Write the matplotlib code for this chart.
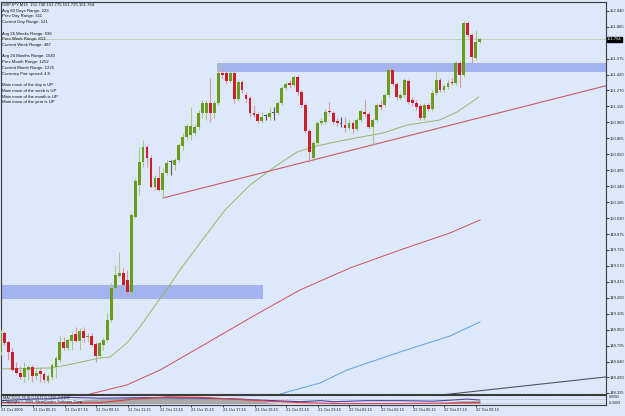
import numpy as np
import matplotlib.pyplot as plt

# GBPJPY M15 candles, 21 Oct 2009 03:15 -> 22 Oct 2009 09:30
opens = [148.733, 148.917, 148.830, 148.733, 148.577, 148.529, 148.490, 148.558, 148.587, 148.500,
         148.548, 148.519, 148.451, 148.490, 148.587, 148.655, 148.830, 148.771, 148.839, 148.907,
         148.839, 148.936, 148.878, 148.888, 148.810, 148.694, 148.801, 148.849, 149.043, 149.353,
         149.470, 149.499, 149.431, 149.315, 150.042, 150.353, 150.576, 150.721, 150.614, 150.333,
         150.420, 150.304, 150.469, 150.576, 150.547, 150.595, 150.731, 150.818, 150.838, 150.857,
         150.915, 151.051, 151.051, 151.148, 151.051, 151.148, 151.439, 151.439, 151.361, 151.439,
         151.187, 151.352, 151.226, 151.196, 151.051, 151.041, 150.973, 151.022, 151.012, 151.051,
         151.051, 151.148, 151.293, 151.342, 151.323, 151.400, 151.255, 151.129, 150.876, 150.614,
         150.760, 150.954, 150.964, 151.070, 151.051, 150.973, 150.944, 150.935, 150.905, 150.954,
         150.896, 150.983, 151.061, 151.041, 150.915, 150.983, 151.129, 151.129, 151.226, 151.468,
         151.332, 151.196, 151.226, 151.361, 151.177, 151.148, 151.119, 151.002, 151.129, 151.090,
         151.245, 151.371, 151.274, 151.303, 151.352, 151.342, 151.536, 151.420, 151.924, 151.808,
         151.584, 151.740]
highs = [148.946, 148.936, 148.849, 148.771, 148.636, 148.597, 148.636, 148.607, 148.607, 148.568,
         148.587, 148.539, 148.519, 148.626, 148.694, 148.888, 148.878, 148.868, 148.927, 148.975,
         148.965, 148.975, 148.917, 148.917, 148.830, 148.839, 148.878, 149.111, 149.402, 149.577,
         149.703, 149.547, 149.528, 150.081, 150.420, 150.721, 150.789, 150.741, 150.644, 150.450,
         150.537, 150.517, 150.595, 150.595, 150.614, 150.760, 150.857, 150.944, 151.109, 150.944,
         151.080, 151.177, 151.177, 151.390, 151.177, 151.536, 151.487, 151.458, 151.468, 151.458,
         151.371, 151.371, 151.255, 151.216, 151.129, 151.061, 151.061, 151.041, 151.109, 151.109,
         151.167, 151.313, 151.352, 151.371, 151.420, 151.420, 151.274, 151.148, 150.896, 150.779,
         150.973, 151.002, 151.090, 151.158, 151.070, 151.002, 151.012, 151.012, 150.983, 150.973,
         151.002, 151.090, 151.177, 151.061, 151.002, 151.148, 151.177, 151.245, 151.497, 151.487,
         151.352, 151.245, 151.390, 151.381, 151.206, 151.177, 151.138, 151.148, 151.148, 151.274,
         151.468, 151.390, 151.332, 151.371, 151.390, 151.555, 151.555, 151.943, 151.943, 151.827,
         151.856, 151.775]
lows = [148.704, 148.801, 148.655, 148.548, 148.519, 148.471, 148.442, 148.461, 148.442, 148.461,
        148.442, 148.442, 148.432, 148.471, 148.480, 148.636, 148.752, 148.752, 148.752, 148.830,
        148.752, 148.830, 148.830, 148.791, 148.636, 148.674, 148.752, 148.830, 149.024, 149.334,
        149.460, 149.363, 149.286, 149.295, 150.032, 150.256, 150.527, 150.527, 150.323, 150.304,
        150.294, 150.226, 150.450, 150.450, 150.498, 150.576, 150.692, 150.789, 150.789, 150.828,
        150.886, 151.002, 150.983, 150.964, 151.002, 151.129, 151.390, 151.332, 151.342, 151.148,
        151.167, 151.245, 151.158, 151.012, 151.012, 150.954, 150.954, 150.983, 150.983, 150.983,
        151.032, 151.129, 151.274, 151.293, 151.303, 151.226, 151.109, 150.857, 150.576, 150.585,
        150.741, 150.935, 150.944, 151.041, 150.944, 150.925, 150.915, 150.867, 150.886, 150.857,
        150.876, 150.964, 151.022, 150.896, 150.741, 150.964, 151.080, 151.109, 151.206, 151.313,
        151.177, 151.177, 151.206, 151.138, 151.119, 151.080, 150.983, 150.983, 151.070, 151.070,
        151.226, 151.255, 151.255, 151.284, 151.323, 151.323, 151.303, 151.400, 151.788, 151.536,
        151.565, 151.725]
closes = [148.917, 148.820, 148.733, 148.558, 148.529, 148.490, 148.577, 148.587, 148.500, 148.529,
          148.519, 148.461, 148.500, 148.607, 148.674, 148.830, 148.771, 148.849, 148.898, 148.839,
          148.936, 148.868, 148.888, 148.801, 148.694, 148.820, 148.849, 149.043, 149.353, 149.480,
          149.499, 149.383, 149.315, 150.062, 150.391, 150.576, 150.721, 150.614, 150.333, 150.420,
          150.304, 150.469, 150.566, 150.576, 150.595, 150.741, 150.818, 150.925, 150.925, 150.915,
          151.051, 151.148, 151.148, 151.051, 151.148, 151.439, 151.420, 151.361, 151.439, 151.187,
          151.352, 151.274, 151.187, 151.051, 151.032, 150.973, 151.012, 151.022, 151.051, 151.051,
          151.148, 151.293, 151.332, 151.323, 151.400, 151.255, 151.129, 150.876, 150.673, 150.760,
          150.954, 150.973, 151.061, 151.061, 150.964, 150.954, 150.944, 150.905, 150.954, 150.896,
          150.983, 151.070, 151.041, 150.915, 150.983, 151.129, 151.109, 151.226, 151.468, 151.332,
          151.206, 151.226, 151.371, 151.158, 151.148, 151.109, 151.002, 151.129, 151.090, 151.245,
          151.371, 151.274, 151.313, 151.342, 151.342, 151.536, 151.420, 151.924, 151.808, 151.594,
          151.740, 151.764]

# moving averages, read at a few bars
ma_green_x = [0, 12.5, 16.8, 25.1, 27.7, 31.9, 35.2, 39.5, 42.8, 45.3, 50.4, 56.7, 63.0, 68.8,
              74.9, 79.9, 85.7, 96.6, 102.7, 111.0, 115.3, 120.8]
ma_green_y = [148.568, 148.577, 148.606, 148.674, 148.684, 148.820, 148.975, 149.208, 149.383,
              149.528, 149.790, 150.110, 150.352, 150.517, 150.673, 150.731, 150.779, 150.857,
              150.934, 150.983, 151.061, 151.205]
ma_red_x = [22.6, 31.9, 40.3, 50.4, 63.0, 75.6, 88.3, 100.9, 113.5, 121.1]
ma_red_y = [148.325, 148.413, 148.558, 148.781, 149.062, 149.334, 149.548, 149.722, 149.887, 150.013]
ma_blue_x = [70.6, 80.7, 87.5, 100.9, 113.5, 121.1]
ma_blue_y = [148.325, 148.432, 148.558, 148.733, 148.888, 149.024]

# trend lines
trend_red_x = [41, 153]
trend_red_y = [150.226, 151.316]
trend_gray_x = [100, 153]
trend_gray_y = [148.268, 148.491]

# supply / demand zones: (bar from, bar to, price low, price high)
zones = [(54.7, 153, 151.449, 151.536), (0, 66.3, 149.247, 149.383)]

price_ticks = [152.040, 151.885, 151.575, 151.420, 151.270, 151.115, 150.960, 150.805, 150.650,
               150.495, 150.340, 150.185, 150.030, 149.875, 149.725, 149.570, 149.415, 149.260,
               149.105, 148.950, 148.795, 148.640, 148.490, 148.335]
time_ticks = list(range(0, 121, 8))
time_labels = ['21 Oct 2009', '21 Oct 05:15', '21 Oct 07:15', '21 Oct 09:15', '21 Oct 11:15',
               '21 Oct 13:15', '21 Oct 15:15', '21 Oct 17:15', '21 Oct 19:15', '21 Oct 21:15',
               '21 Oct 23:15', '22 Oct 01:15', '22 Oct 03:15', '22 Oct 05:15', '22 Oct 07:15',
               '22 Oct 09:15']
last_price = 151.764

info_lines = ['GBPJPY,M15  151.740 151.775 151.725 151.764',
              'Avg 60 Days Range: 223', 'Prev Day Range: 311', 'Current Day Range: 121', '',
              'Avg 26 Weeks Range: 596', 'Prev Week Range: 813', 'Current Week Range: 487', '',
              'Avg 24 Months Range: 1540', 'Prev Month Range: 1252', 'Current Month Range: 1225',
              'Currency Pair spread: 4.8', '',
              'Main move of the day is UP', 'Main move of the week is UP',
              'Main move of the month is UP', 'Main move of the year is UP']

# lower indicator window
ind_x = [0, 7.5, 12.5, 16.8, 21, 25, 33.5, 42, 50.4, 58.7, 67.3, 75.6, 80.7, 84, 92.5, 100.9,
         109, 117.8, 121]
ind_main = [-0.007, 0.022, 0.027, 0.055, 0.048, 0.038, 0.048, 0.048, 0.038, 0.027, -0.002,
            -0.028, -0.007, -0.028, -0.007, -0.007, -0.018, 0.022, 0.005]
ind_signal = [-0.045, -0.050, -0.057, -0.052, -0.048, -0.045, 0.022, 0.065, 0.055, 0.022,
              -0.018, -0.045, -0.055, -0.062, -0.062, -0.062, -0.057, -0.045, -0.040]
hist_x = [15, 21, 30, 38, 50, 61, 65, 70, 110, 116, 121]
hist_y = [-0.062, 0.010, 0.045, 0.070, 0.062, 0.040, -0.010, -0.062, -0.062, -0.010, -0.010]

BG = '#dde8fb'
W, H = 625, 416


def box(x0, y0, x1, y1):
    return [x0 / W, 1 - y1 / H, (x1 - x0) / W, (y1 - y0) / H]


plt.rcParams['font.family'] = ['Liberation Sans Narrow', 'Liberation Sans', 'DejaVu Sans']
fig = plt.figure(figsize=(6.25, 4.16), dpi=100, facecolor=BG)
ax = fig.add_axes(box(1.5, 1.5, 606, 393.5), facecolor=BG)
axi = fig.add_axes(box(1.5, 394.5, 606, 405), facecolor=BG)

o = np.array(opens)
h = np.array(highs)
l = np.array(lows)
c = np.array(closes)
x = np.arange(len(o))

for x0, x1, lo, hi in zones:
    ax.fill_between([x0, x1], lo, hi, color='#a3b3ef', lw=0, zorder=1)

ax.axhline(last_price, color='#b9c9ae', lw=0.6, zorder=1)
ax.plot(ma_green_x, ma_green_y, color='#93b866', lw=0.7, zorder=2)
ax.plot(ma_red_x, ma_red_y, color='#d0505a', lw=0.7, zorder=2)
ax.plot(ma_blue_x, ma_blue_y, color='#5ea2e4', lw=0.7, zorder=2)
ax.plot(trend_red_x, trend_red_y, color='#c95866', lw=0.8, zorder=2)
ax.plot(trend_gray_x, trend_gray_y, color='#4f5860', lw=0.8, zorder=2)

up = c > o
down = c < o
wick_col = np.where(up, '#aac78a', np.where(down, '#dc96a4', '#555555'))
body_col = np.where(up, '#6a9a1e', np.where(down, '#cc1f2b', '#555555'))
ax.vlines(x, l, h, colors=wick_col, lw=0.8, zorder=3)
body = np.maximum(np.abs(c - o), 0.006)
ax.bar(x, body, bottom=np.minimum(o, c), width=0.72, color=body_col, lw=0, zorder=4)

ax.set_xlim(0.25, 152.9)
ax.set_ylim(148.330, 152.132)
ax.yaxis.tick_right()
ax.set_yticks(price_ticks)
ax.set_yticklabels([f'{p:.3f}' for p in price_ticks])
ax.tick_params(axis='y', length=2, width=0.6, pad=1.0, labelsize=3.0, colors='#222222')
ax.set_xticks([])
for s in ax.spines.values():
    s.set_color('#3c3c3c')
    s.set_linewidth(0.8)

ax.text(1.002, last_price, f'{last_price:.3f}', transform=ax.get_yaxis_transform(),
        fontsize=3.0, color='white', va='center', ha='left',
        bbox=dict(boxstyle='square,pad=0.12', fc='black', ec='black'))

# indicator window
axi.fill_between(hist_x, -0.062, hist_y, color='#a9a9a9', lw=0, zorder=1)
axi.plot(ind_x, ind_main, color='#4b3fa8', lw=0.8, zorder=2)
axi.plot(ind_x, ind_signal, color='#e03838', lw=0.8, zorder=2)
axi.axhline(0.03, color='#888888', lw=0.4, ls=(0, (1, 1.5)))
axi.axhline(-0.045, color='#888888', lw=0.4, ls=(0, (1, 1.5)))
axi.set_xlim(0.25, 152.9)
axi.set_ylim(-0.09, 0.11)
axi.set_yticks([])
axi.set_xticks(time_ticks)
axi.set_xticklabels(time_labels, ha='left')
axi.tick_params(axis='x', length=1.5, width=0.6, pad=0.6, labelsize=2.9, colors='#222222')
for s in axi.spines.values():
    s.set_color('#3c3c3c')
    s.set_linewidth(0.8)
axi.text(0.003, 0.68, 'MACD(12,26,9) 0.1677 0.1495 0.0182', transform=axi.transAxes,
         fontsize=2.8, color='#222222', va='center')
axi.text(0.003, 0.25, 'Copyright \u00a9 2009, MetaQuotes Software Corp.', transform=axi.transAxes,
         fontsize=2.8, color='#222222', va='center')
axi.text(1.004, 0.75, '0.0992', transform=axi.transAxes, fontsize=2.6, color='#222222',
         va='center')
axi.text(1.004, 0.2, '-0.0669', transform=axi.transAxes, fontsize=2.6, color='#222222',
         va='center')

for k, line in enumerate(info_lines):
    fig.text(2.5 / W, 1 - (5 + k * 5.72) / H, line, fontsize=3.1, color='#111111', va='center')

fig.savefig('out.png', dpi=100, facecolor=BG)
